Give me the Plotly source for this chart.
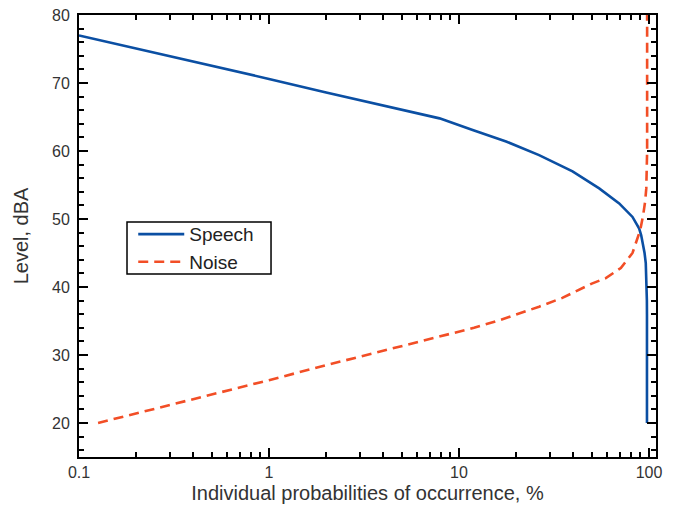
import plotly.graph_objects as go

speech_x = [0.1, 0.2, 0.5, 1, 2, 5, 7.9, 11.8, 17.7, 26.4, 39.6, 54.7, 69.7, 81.9, 85.5,
            88.8, 91.0, 93.1, 94.8, 96.2, 96.8, 97.2, 97.5, 97.6, 97.6]
speech_y = [77.0, 75.1, 72.5, 70.6, 68.6, 66.1, 64.8, 63.1, 61.4, 59.4, 57.0, 54.5, 52.3, 50.3, 49.5,
            48.6, 47.6, 46.4, 45.0, 43.5, 41.8, 40.0, 38.0, 36.0, 20.0]

noise_x = [0.126, 0.2, 0.5, 1, 2, 3.5, 7.9, 12.0, 16.3, 20.0, 26.4, 35.0, 43.0, 50.0, 59.3, 71.1,
           81.9, 86.0, 90.0, 93.1, 95.5, 96.8, 97.5, 97.8, 97.8]
noise_y = [20.0, 21.4, 24.2, 26.3, 28.5, 30.2, 32.7, 34.0, 35.1, 35.9, 37.1, 38.4, 39.6, 40.5, 41.3, 42.8,
           45.0, 46.6, 48.4, 50.5, 52.6, 54.5, 57.0, 60.0, 80.0]

x_major = [0.1, 1, 10, 100]
x_labels = ["0.1", "1", "10", "100"]
x_minor = [m * d for d in (0.1, 1, 10) for m in range(2, 10)]

font_family = "Liberation Sans, Arial, sans-serif"

fig = go.Figure()
fig.add_trace(go.Scatter(x=speech_x, y=speech_y, mode="lines", name="Speech",
                         line=dict(color="#0b4fa3", width=2.6)))
fig.add_trace(go.Scatter(x=noise_x, y=noise_y, mode="lines", name="Noise",
                         line=dict(color="#f24e26", width=2.6, dash="10px,6px")))

axis_common = dict(showline=True, linecolor="black", linewidth=2, mirror="ticks",
                   ticks="inside", tickcolor="black", tickwidth=2, ticklen=9,
                   showgrid=False, zeroline=False, automargin=False,
                   tickfont=dict(family=font_family, size=16, color="#333333"),
                   title_font=dict(family=font_family, size=20, color="#333333"))

fig.update_xaxes(type="log", range=[-1, 2.037], tickvals=x_major, ticktext=x_labels,
                 minor=dict(ticks="inside", ticklen=5, tickwidth=2, tickcolor="black", tickvals=x_minor),
                 title_text="Individual probabilities of occurrence, %", title_standoff=6, **axis_common)
fig.update_yaxes(range=[15, 80], dtick=10, tick0=0, ticklabelstandoff=4,
                 minor=dict(ticks="inside", ticklen=5, tickwidth=2, tickcolor="black", dtick=2),
                 title_text="Level, dBA", title_standoff=18, **axis_common)

# legend frame
fig.add_shape(type="rect", xref="paper", yref="paper", x0=0.0832, x1=0.3328, y0=0.414, y1=0.5317,
              line=dict(color="black", width=1.5), fillcolor="white", layer="below")

fig.update_layout(
    width=673, height=514,
    margin=dict(l=79, r=17, t=15, b=57),
    plot_bgcolor="white", paper_bgcolor="white",
    legend=dict(x=0.094, y=0.547, xanchor="left", yanchor="top",
                bgcolor="rgba(0,0,0,0)", borderwidth=0,
                font=dict(family=font_family, size=19, color="#222222"),
                tracegroupgap=0, itemwidth=46),
)

fig.write_html("out.html", config={"displayModeBar": False},
               post_script="document.body.style.margin='0px';")
